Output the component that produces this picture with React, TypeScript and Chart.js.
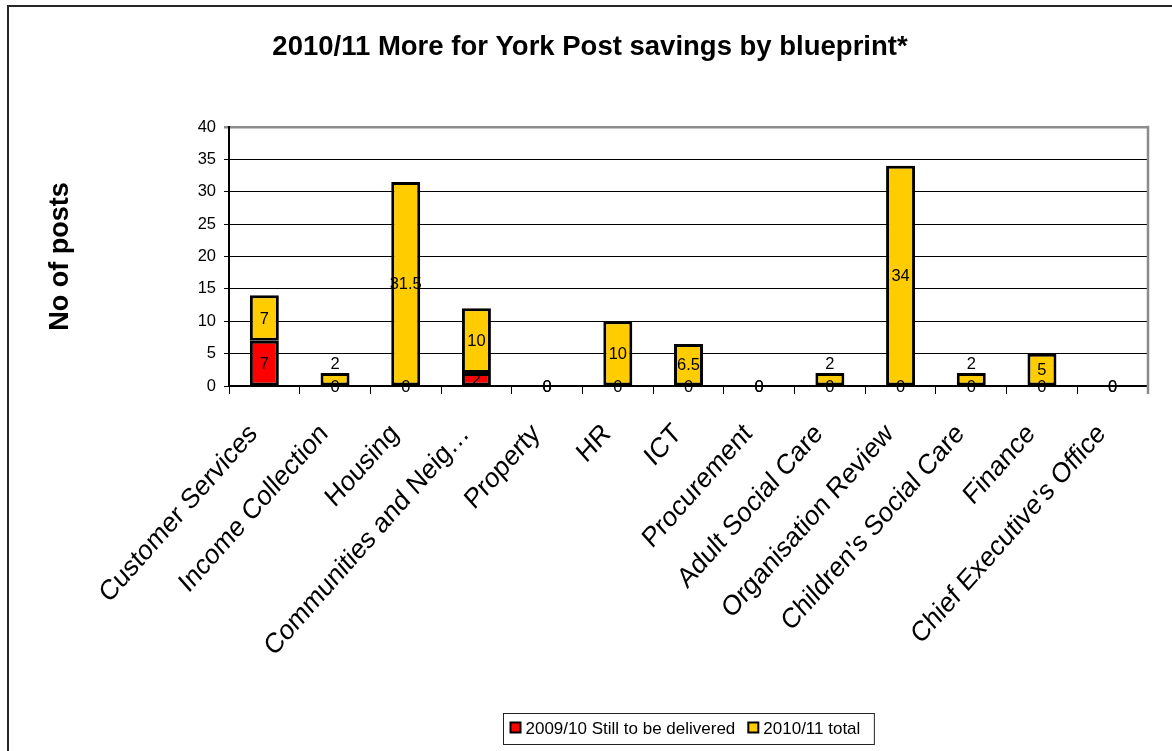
import React, { useEffect, useRef } from 'react';
import { Chart, registerables } from 'chart.js';

Chart.register(...registerables);

const FONT = '"Liberation Sans", Arial, Helvetica, sans-serif';

const chartTitle = '2010/11 More for York Post savings by blueprint*';
const yAxisTitle = 'No of posts';

const categories = [
  'Customer Services',
  'Income Collection',
  'Housing',
  'Communities and Neig…',
  'Property',
  'HR',
  'ICT',
  'Procurement',
  'Adult Social Care',
  'Organisation Review',
  "Children's Social Care",
  'Finance',
  "Chief Executive's Office",
];

const seriesNames = ['2009/10 Still to be delivered', '2010/11 total'];
const stillToBeDelivered = [7, 0, 0, 2, 0, 0, 0, 0, 0, 0, 0, 0, 0];
const total201011 = [7, 2, 31.5, 10, 0, 10, 6.5, 0, 2, 34, 2, 5, 0];

const yMin = 0;
const yMax = 40;
const yStep = 5;

const RED = '#FF0000';
const YELLOW = '#FFCC00';

const framePlugin = {
  id: 'frame',
  beforeDraw(chart: any) {
    const ctx = chart.ctx;
    ctx.save();
    ctx.fillStyle = '#ffffff';
    ctx.fillRect(0, 0, chart.width, chart.height);
    ctx.strokeStyle = '#262626';
    ctx.lineWidth = 2;
    ctx.beginPath();
    ctx.moveTo(8, chart.height);
    ctx.lineTo(8, 6);
    ctx.lineTo(chart.width, 6);
    ctx.stroke();
    ctx.restore();
  },
  afterDraw(chart: any) {
    const ctx = chart.ctx;
    const area = chart.chartArea;
    ctx.save();
    // right plot border (grey)
    ctx.strokeStyle = '#8c8c8c';
    ctx.lineWidth = 2.5;
    ctx.beginPath();
    ctx.moveTo(area.right, area.top - 1.25);
    ctx.lineTo(area.right, area.bottom + 8);
    ctx.stroke();

    // rotated category labels (slightly stretched vertically like the original)
    const xs = chart.scales.x;
    ctx.font = `25px ${FONT}`;
    ctx.fillStyle = '#000';
    ctx.textAlign = 'right';
    ctx.textBaseline = 'alphabetic';
    (chart.data.labels as string[]).forEach((lab: string, i: number) => {
      const px = xs.getPixelForTick(i);
      ctx.save();
      ctx.translate(px - 6, xs.top + 49);
      ctx.scale(1, 1.13);
      ctx.rotate(-Math.PI / 4);
      ctx.fillText(lab, 0, 0);
      ctx.restore();
    });

    // legend
    const datasets = chart.data.datasets;
    ctx.font = `17px ${FONT}`;
    ctx.textBaseline = 'middle';
    ctx.textAlign = 'left';
    const marker = 12;
    const gapAfterMarker = 4;
    const gapBetween = 12;
    const widths = datasets.map((d: any) => ctx.measureText(d.label).width);
    let content = 0;
    widths.forEach((w: number, i: number) => {
      content += marker + gapAfterMarker + w + (i < widths.length - 1 ? gapBetween : 0);
    });
    const padL = 6;
    const padR = 14;
    const boxW = content + padL + padR;
    const cx = (area.left + area.right) / 2;
    const boxX = Math.round(cx - boxW / 2) + 0.5;
    const boxY = 713.5;
    const boxH = 31;
    ctx.strokeStyle = '#222';
    ctx.lineWidth = 1;
    ctx.strokeRect(boxX, boxY, boxW, boxH);
    let x = boxX + padL;
    const midY = boxY + boxH / 2;
    datasets.forEach((d: any, i: number) => {
      ctx.fillStyle = '#000';
      ctx.fillRect(x, midY - 7.5, marker, marker);
      ctx.fillStyle = d.backgroundColor;
      ctx.fillRect(x + 2, midY - 5.5, marker - 4, marker - 4);
      x += marker + gapAfterMarker;
      ctx.fillStyle = '#000';
      ctx.fillText(d.label, x, midY);
      x += widths[i] + gapBetween;
    });
    ctx.restore();
  },
  afterDatasetsDraw(chart: any) {
    const ctx = chart.ctx;
    ctx.save();
    ctx.font = `16.5px ${FONT}`;
    ctx.fillStyle = '#000';
    ctx.textAlign = 'center';
    ctx.textBaseline = 'middle';
    const n = chart.data.datasets.length;
    chart.data.datasets.forEach((ds: any, di: number) => {
      const meta = chart.getDatasetMeta(di);
      meta.data.forEach((el: any, i: number) => {
        const v = ds.data[i];
        const props = el.getProps(['x', 'y', 'base'], true);
        const top = Math.min(props.y, props.base);
        const bottom = Math.max(props.y, props.base);
        let ly = (top + bottom) / 2;
        if (di === n - 1 && v > 0 && bottom - top < 20) {
          ly = top - 10;
        }
        ctx.fillText(String(v), props.x, ly + 1);
      });
    });
    ctx.restore();
  },
};

export default function App() {
  const ref = useRef<HTMLCanvasElement | null>(null);

  useEffect(() => {
    document.body.style.margin = '0';
    const canvas = ref.current;
    if (!canvas) return;
    const chart = new Chart(canvas, {
      type: 'bar',
      data: {
        labels: categories,
        datasets: [
          {
            label: seriesNames[0],
            data: stillToBeDelivered,
            backgroundColor: RED,
            borderColor: '#000',
            borderWidth: (c: any) => (c.raw === 0 ? 0 : 3),
            borderSkipped: false,
            barPercentage: 0.41,
            categoryPercentage: 1,
          },
          {
            label: seriesNames[1],
            data: total201011,
            backgroundColor: YELLOW,
            borderColor: '#000',
            borderWidth: (c: any) => (c.raw === 0 ? 0 : 3),
            borderSkipped: false,
            barPercentage: 0.41,
            categoryPercentage: 1,
          },
        ],
      },
      options: {
        responsive: false,
        animation: false,
        devicePixelRatio: 1,
        layout: { padding: { left: 32, right: 24, top: 0, bottom: 0 } },
        plugins: {
          legend: { display: false },
          tooltip: { enabled: false },
          title: {
            display: true,
            text: chartTitle,
            color: '#000',
            font: { family: FONT, size: 27.5, weight: 'bold' },
            padding: { top: 30.5, bottom: 63.5 },
          },
        },
        scales: {
          x: {
            stacked: true,
            offset: true,
            grid: {
              display: true,
              offset: true,
              drawOnChartArea: false,
              drawTicks: true,
              tickLength: 8,
              color: '#000',
              lineWidth: 1,
            },
            border: { display: true, color: '#000', width: 2 },
            ticks: {
              display: false,
              autoSkip: false,
            },
            afterFit: (scale: any) => {
              scale.height = 365;
            },
          },
          y: {
            stacked: true,
            min: yMin,
            max: yMax,
            ticks: {
              stepSize: yStep,
              color: '#000',
              padding: 8,
              font: { family: FONT, size: 16.5 },
            },
            grid: {
              drawTicks: true,
              tickLength: 5,
              color: (c: any) => (c.tick && c.tick.value === yMax ? '#8c8c8c' : '#000'),
              lineWidth: (c: any) => (c.tick && c.tick.value === yMax ? 2.5 : 1),
            },
            border: { display: true, color: '#000', width: 2 },
            title: {
              display: true,
              text: yAxisTitle,
              color: '#000',
              font: { family: FONT, size: 27, weight: 'bold' },
              padding: { top: 12, bottom: 0 },
            },
            afterFit: (scale: any) => {
              scale.width = 197;
            },
          },
        },
      },
      plugins: [framePlugin],
    } as any);
    return () => chart.destroy();
  }, []);

  return (
    <div style={{ width: 1172, height: 751, position: 'relative' }}>
      <canvas ref={ref} width={1172} height={751} style={{ display: 'block' }} />
    </div>
  );
}
